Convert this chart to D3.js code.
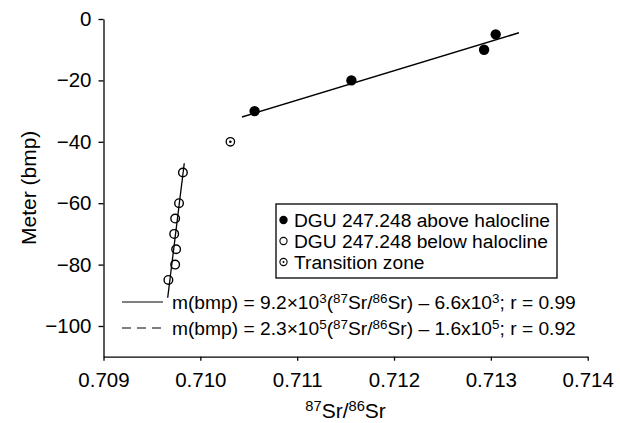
<!DOCTYPE html>
<html>
<head>
<meta charset="utf-8">
<script src="https://cdn.jsdelivr.net/npm/d3@7"></script>
<style>
  body { margin: 0; background: #fff; }
  text { font-family: "Liberation Sans", Arial, sans-serif; fill: #000; }
</style>
</head>
<body>
<div id="chart"></div>
<script>
// readings
const aboveX = [0.71056, 0.71156, 0.71293, 0.71305];
const aboveY = [-30, -20, -10, -5];
const belowX = [0.70982, 0.70978, 0.70974, 0.70973, 0.70975, 0.70974, 0.70967];
const belowY = [-50, -60, -65, -70, -75, -80, -85];
const transX = [0.71031];
const transY = [-40];
const fitAboveX = [0.71043, 0.71329];
const fitAboveY = [-31.9, -4.5];
const fitBelowX = [0.709663, 0.709834];
const fitBelowY = [-90.8, -47];
const xTicks = [0.709, 0.710, 0.711, 0.712, 0.713, 0.714];
const yTicks = [0, -20, -40, -60, -80, -100];
const legendLabels = ["DGU 247.248 above halocline", "DGU 247.248 below halocline", "Transition zone"];

(function() {
  const W = 620, H = 423;
  const tickFs = 20.5, legFs = 19.2, titleFs = 21;

  const x = d3.scaleLinear().domain([0.709, 0.714]).range([103.5, 587.7]);
  const y = d3.scaleLinear().domain([-110, 0]).range([356.7, 19]);

  const svg = d3.select('#chart').append('svg')
    .attr('width', W)
    .attr('height', H);

  // axes
  const xAxis = svg.append('g')
    .attr('transform', `translate(0, ${y(-110)})`)
    .call(d3.axisBottom(x).tickValues(xTicks).tickFormat(d3.format('.3f')).tickSize(4).tickPadding(12).tickSizeOuter(0));

  const yAxis = svg.append('g')
    .attr('transform', `translate(${x(0.709)}, 0)`)
    .call(d3.axisLeft(y).tickValues(yTicks).tickSize(5).tickPadding(7).tickSizeOuter(0));

  [xAxis, yAxis].forEach(a => {
    a.select('.domain').attr('stroke', '#000').attr('stroke-width', 1.3);
    a.selectAll('.tick line').attr('stroke', '#000').attr('stroke-width', 1.3);
    a.selectAll('.tick text').style('font-size', tickFs + 'px').attr('fill', '#000');
  });

  // axis titles
  svg.append('text')
    .attr('transform', `translate(29, ${y(-55)}) rotate(-90)`)
    .attr('dy', '.35em')
    .style('text-anchor', 'middle')
    .style('font-size', titleFs + 'px')
    .text('Meter (bmp)');

  const xt = svg.append('text')
    .attr('x', (x(0.709) + x(0.714)) / 2)
    .attr('y', 418)
    .style('text-anchor', 'middle')
    .style('font-size', titleFs + 'px');
  rich(xt, [['87', 1], ['Sr/', 0], ['86', 1], ['Sr', 0]]);

  // fit lines
  const line = d3.line().x(d => x(d[0])).y(d => y(d[1]));
  svg.append('path')
    .attr('d', line(d3.zip(fitAboveX, fitAboveY)))
    .attr('stroke', '#000').attr('stroke-width', 1.5).attr('fill', 'none');
  svg.append('path')
    .attr('d', line(d3.zip(fitBelowX, fitBelowY)))
    .attr('stroke', '#000').attr('stroke-width', 1.3).attr('fill', 'none');

  // points
  svg.selectAll('.above')
    .data(d3.zip(aboveX, aboveY))
    .enter().append('circle')
      .attr('class', 'above')
      .attr('cx', d => x(d[0]))
      .attr('cy', d => y(d[1]))
      .attr('r', 5.2)
      .attr('fill', '#000');

  svg.selectAll('.below')
    .data(d3.zip(belowX, belowY))
    .enter().append('circle')
      .attr('class', 'below')
      .attr('cx', d => x(d[0]))
      .attr('cy', d => y(d[1]))
      .attr('r', 4.3)
      .attr('fill', 'none')
      .attr('stroke', '#000')
      .attr('stroke-width', 1.4);

  const trans = svg.selectAll('.trans')
    .data(d3.zip(transX, transY))
    .enter().append('g')
      .attr('class', 'trans')
      .attr('transform', d => `translate(${x(d[0])}, ${y(d[1])})`);
  trans.append('circle').attr('r', 4.2).attr('fill', 'none').attr('stroke', '#000').attr('stroke-width', 1.3);
  trans.append('circle').attr('r', 1.3).attr('fill', '#000');

  // legend box
  const lg = svg.append('g').attr('transform', 'translate(276, 204)');
  lg.append('rect')
    .attr('width', 281).attr('height', 74)
    .attr('fill', '#fff').attr('stroke', '#000').attr('stroke-width', 1.3);

  const rows = lg.selectAll('.legend')
    .data(legendLabels)
    .enter().append('g')
      .attr('class', 'legend')
      .attr('transform', (d, i) => `translate(0, ${16 + i * 21})`);

  rows.append('text')
    .attr('x', 18)
    .attr('dy', '.35em')
    .style('font-size', legFs + 'px')
    .text(d => d);

  rows.filter((d, i) => i === 0).append('circle')
    .attr('cx', 7.5).attr('r', 4.2).attr('fill', '#000');
  rows.filter((d, i) => i === 1).append('circle')
    .attr('cx', 7.5).attr('r', 3.6).attr('fill', 'none').attr('stroke', '#000').attr('stroke-width', 1.1);
  const t3 = rows.filter((d, i) => i === 2);
  t3.append('circle').attr('cx', 7.5).attr('r', 3.6).attr('fill', 'none').attr('stroke', '#000').attr('stroke-width', 1.1);
  t3.append('circle').attr('cx', 7.5).attr('r', 1).attr('fill', '#000');

  // equations
  const eqs = [
    { dash: null, y: 302, parts: [['m(bmp) = 9.2\u00d710', 0], ['3', 1], ['(', 0], ['87', 1], ['Sr/', 0], ['86', 1], ['Sr) \u2013 6.6x10', 0], ['3', 1], ['; r = 0.99', 0]] },
    { dash: '9,6', y: 328, parts: [['m(bmp) = 2.3\u00d710', 0], ['5', 1], ['(', 0], ['87', 1], ['Sr/', 0], ['86', 1], ['Sr) \u2013 1.6x10', 0], ['5', 1], ['; r = 0.92', 0]] }
  ];
  eqs.forEach(e => {
    svg.append('line')
      .attr('x1', 122).attr('x2', 163)
      .attr('y1', e.y).attr('y2', e.y)
      .attr('stroke', '#000').attr('stroke-width', 1.2)
      .attr('stroke-dasharray', e.dash);
    const t = svg.append('text')
      .attr('x', 172)
      .attr('y', e.y)
      .attr('dy', '.35em')
      .style('font-size', legFs + 'px');
    rich(t, e.parts);
  });

  function rich(t, parts) {
    let up = false;
    parts.forEach(([s, sup]) => {
      const sp = t.append('tspan').text(s);
      if (sup && !up) { sp.attr('dy', '-0.45em').style('font-size', '0.7em'); up = true; }
      else if (sup) { sp.style('font-size', '0.7em'); }
      else if (up) { sp.attr('dy', (0.45 * 0.7) + 'em'); up = false; }
    });
  }
})();
</script>
</body>
</html>
